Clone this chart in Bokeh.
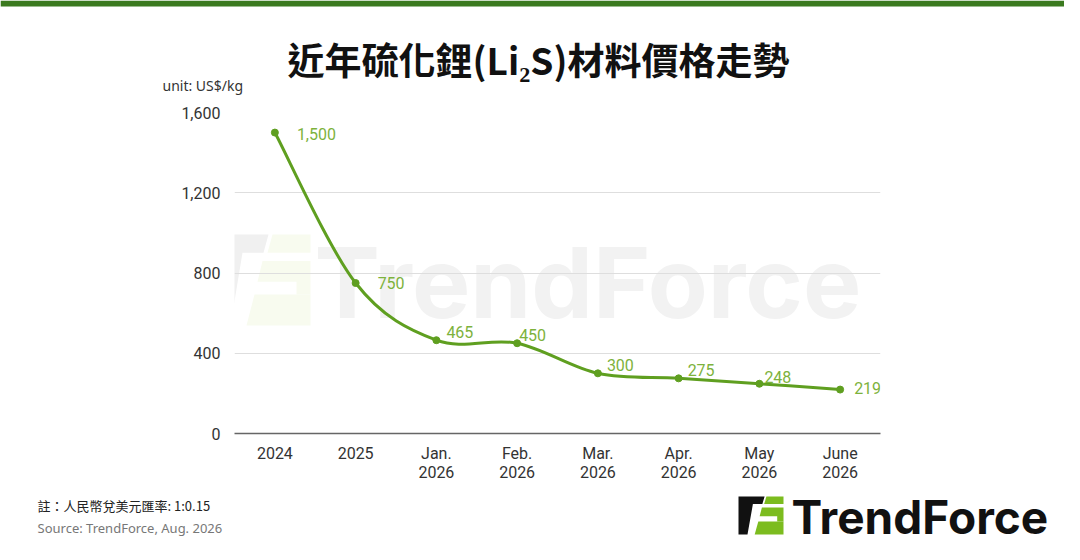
from bokeh.plotting import figure
from bokeh.layouts import column
from bokeh.models import (Range1d, FixedTicker, NumeralTickFormatter, Label,
                          PolyAnnotation, ColumnDataSource)
from bokeh.core.properties import value
from bokeh.embed import file_html
from bokeh.resources import INLINE

# ---------------- data ----------------
categories = ["2024", "2025", "Jan.\n2026", "Feb.\n2026", "Mar.\n2026",
              "Apr.\n2026", "May\n2026", "June\n2026"]
prices = [1500, 750, 465, 450, 300, 275, 248, 219]
price_labels = ["1,500", "750", "465", "450", "300", "275", "248", "219"]
y_ticks = [0, 400, 800, 1200, 1600]

title_text = "近年硫化鋰(Li₂S)材料價格走勢"
unit_text = "unit: US$/kg"
note_text = "註：人民幣兌美元匯率: 1:0.15"
source_text = "Source: TrendForce, Aug. 2026"
brand_text = "TrendForce"

# label placement (style, pixels)
label_dx = [22, 22, 10, 2, 9, 9, 5, 14]
label_dy = [1, 0, -8, -8, -8, -8, -7, -2]

LINE = "#5f9f20"
LABEL = "#7db23c"
W = 1064
TOP_H, MID_H, BOT_H = 100, 386, 58


def blank(h, y0):
    f = figure(width=W, height=h, output_backend="svg", toolbar_location=None,
               x_range=Range1d(0, W), y_range=Range1d(y0 + h, y0),
               min_border=0, min_border_left=0, min_border_right=0,
               min_border_top=0, min_border_bottom=0)
    f.axis.visible = False
    f.grid.visible = False
    f.outline_line_color = None
    f.background_fill_color = "white"
    f.border_fill_color = "white"
    f.frame_align = False
    return f


def icon(f, X0, Y0, w, h, dark, green):
    black = [(0, 0), (0.58, 0), (0.53, 0.2), (0.32, 0.2), (0.2, 1), (0, 1)]
    g1 = [(0.62, 0), (1, 0), (1, 0.2), (0.57, 0.2)]
    g2 = [(0.52, 0.29), (1, 0.29), (1, 0.66), (0.86, 0.66), (0.86, 0.52), (0.47, 0.52)]
    g3 = [(0.44, 0.66), (1, 0.66), (1, 1), (0.36, 1)]
    polys = [black, g1, g2, g3]
    cols = [dark, green, green, green]
    f.patches(xs=[[X0 + u * w for u, v in pl] for pl in polys],
              ys=[[Y0 + v * h for u, v in pl] for pl in polys],
              fill_color=cols, line_color=None)


# ---------------- top band ----------------
top = blank(TOP_H, 0)
top.quad(left=0, right=W, top=0, bottom=6, fill_color="#3b7a1f", line_color=None)
top.add_layout(Label(x=538, y=58, text=title_text, text_font="Noto Sans CJK TC",
                     text_font_style="bold", text_font_size="37px",
                     text_color="#111111", text_align="center",
                     text_baseline="middle"))
top.add_layout(Label(x=162, y=85, text=unit_text, text_font="Noto Sans",
                     text_font_size="14px", text_color="#333333",
                     text_align="left", text_baseline="middle"))

# ---------------- main chart ----------------
Y0 = TOP_H
FL, FR, FT, FB = 234, 880, 112, 433  # frame edges in page pixels

p = figure(width=W, height=MID_H, output_backend="svg", toolbar_location=None,
           x_range=Range1d(-0.5, len(categories) - 0.5),
           y_range=Range1d(0, 1600),
           min_border_left=FL, min_border_right=W - FR,
           min_border_top=FT - Y0, min_border_bottom=Y0 + MID_H - FB)
p.outline_line_color = None
p.background_fill_color = "white"
p.border_fill_color = "white"
p.frame_align = False

xs_idx = list(range(len(categories)))
p.xaxis.ticker = FixedTicker(ticks=xs_idx)
p.xaxis.major_label_overrides = {i: c for i, c in zip(xs_idx, categories)}
p.xaxis.major_tick_line_color = None
p.xaxis.minor_tick_line_color = None
p.xaxis.axis_line_color = "#666666"
p.xaxis.axis_line_width = 1.5
p.xaxis.major_label_text_font = "Roboto"
p.xaxis.major_label_text_font_size = "16px"
p.xaxis.major_label_text_color = "#333333"
p.xaxis.major_label_standoff = 4
p.xaxis.major_label_text_line_height = 1.05

p.yaxis.ticker = FixedTicker(ticks=y_ticks)
p.yaxis.formatter = NumeralTickFormatter(format="0,0")
p.yaxis.major_tick_line_color = None
p.yaxis.minor_tick_line_color = None
p.yaxis.axis_line_color = None
p.yaxis.major_label_text_font = "Roboto"
p.yaxis.major_label_text_font_size = "16px"
p.yaxis.major_label_text_color = "#333333"
p.yaxis.major_label_standoff = 8

p.xgrid.grid_line_color = None
p.ygrid.ticker = FixedTicker(ticks=y_ticks[1:])
p.ygrid.grid_line_color = "#dedede"
p.ygrid.grid_line_width = 1


def sx(X):
    return X - FL


def sy(Y):
    return FB - Y


# watermark
wm = [[(0, 0), (0.58, 0), (0.53, 0.2), (0.32, 0.2), (0.2, 1), (0, 1)],
      [(0.62, 0), (1, 0), (1, 0.2), (0.57, 0.2)],
      [(0.52, 0.29), (1, 0.29), (1, 0.66), (0.86, 0.66), (0.86, 0.52), (0.47, 0.52)],
      [(0.44, 0.66), (1, 0.66), (1, 1), (0.36, 1)]]
for k, poly in enumerate(wm):
    p.add_layout(PolyAnnotation(
        xs=[sx(210 + u * 100) for u, v in poly],
        ys=[sy(234 + v * 91) for u, v in poly],
        xs_units="screen", ys_units="screen",
        fill_color="#f0f0f0" if k == 0 else "#f8fbef", fill_alpha=1.0,
        line_color=None, level="image"))
p.add_layout(Label(x=sx(314), y=sy(282), x_units="screen", y_units="screen",
                   text=brand_text, text_font="Inter", text_font_style="bold",
                   text_font_size="98px", text_color="#f2f2f2",
                   text_baseline="middle", text_align="left", level="image"))

# smooth line (Catmull-Rom as cubic Bezier segments)
n = len(prices)
x0, y0, x1, y1, cx0, cy0, cx1, cy1 = [], [], [], [], [], [], [], []
for i in range(n - 1):
    pa = (xs_idx[max(i - 1, 0)], prices[max(i - 1, 0)])
    pb = (xs_idx[i], prices[i])
    pc = (xs_idx[i + 1], prices[i + 1])
    pd = (xs_idx[min(i + 2, n - 1)], prices[min(i + 2, n - 1)])
    x0.append(pb[0]); y0.append(pb[1]); x1.append(pc[0]); y1.append(pc[1])
    cx0.append(pb[0] + (pc[0] - pa[0]) / 6); cy0.append(pb[1] + (pc[1] - pa[1]) / 6)
    cx1.append(pc[0] - (pd[0] - pb[0]) / 6); cy1.append(pc[1] - (pd[1] - pb[1]) / 6)

p.bezier(x0=x0, y0=y0, x1=x1, y1=y1, cx0=cx0, cy0=cy0, cx1=cx1, cy1=cy1,
         line_color=LINE, line_width=3)

src = ColumnDataSource(dict(x=xs_idx, y=prices, t=price_labels,
                            dx=label_dx, dy=label_dy))
p.scatter("x", "y", source=src, size=7, fill_color=LINE, line_color=LINE)
p.text("x", "y", text="t", source=src, x_offset="dx", y_offset="dy",
       text_font=value("Roboto"), text_font_size="16px", text_color=LABEL,
       text_align="left", text_baseline="middle")

# ---------------- bottom band ----------------
bot = blank(BOT_H, TOP_H + MID_H)
bot.add_layout(Label(x=37, y=505, text=note_text, text_font="Noto Sans CJK TC",
                     text_font_size="13px", text_color="#222222",
                     text_align="left", text_baseline="middle"))
bot.add_layout(Label(x=37, y=527, text=source_text, text_font="Noto Sans",
                     text_font_size="13px", text_color="#777777",
                     text_align="left", text_baseline="middle"))
icon(bot, 738, 496, 45, 38, "#111111", "#7cbc1f")
bot.add_layout(Label(x=791, y=516, text=brand_text, text_font="Inter",
                     text_font_style="bold", text_font_size="46px",
                     text_color="#111111", text_align="left",
                     text_baseline="middle"))

layout = column(top, p, bot, spacing=0)
open("out.html", "w").write(file_html(layout, INLINE))
